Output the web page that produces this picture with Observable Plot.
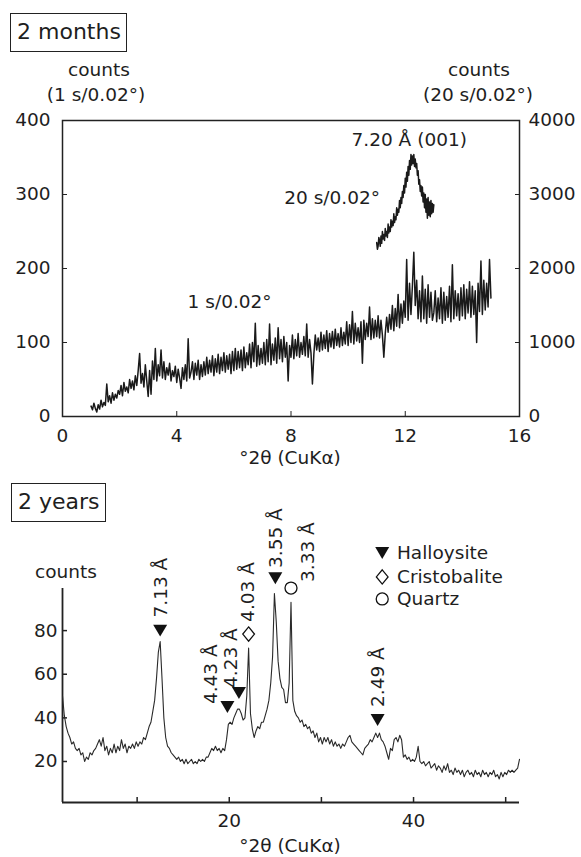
<!DOCTYPE html>
<html><head><meta charset="utf-8">
<script src="https://cdn.jsdelivr.net/npm/d3@7"></script>
<script src="https://cdn.jsdelivr.net/npm/@observablehq/plot@0.6"></script>
<style>
body{margin:0;background:#fff;}
#wrap{position:relative;width:581px;height:857px;font-family:"DejaVu Sans",sans-serif;color:#1e1e1e;overflow:hidden;background:#fff}
.t{position:absolute;white-space:nowrap;font-size:18.5px;line-height:1;transform:translate(-50%,-50%)}
.box{position:absolute;border:1.5px solid #222;font-size:22px;line-height:36px;padding:0 6px;box-sizing:border-box;white-space:nowrap}
#top,#bot{position:absolute;left:0}
</style></head><body>
<div id="wrap">
  <div id="top" style="top:0"></div>
  <div id="bot" style="top:470px"></div>
</div>
<script>
// ---------- 2 months panel ----------
const fastStart = 1.0, fastStep = 0.05; // 1 s/0.02°, counts (left axis)
const fastCounts = [
  14,9,18,11,6,16,10,22,13,19,15,44,20,28,18,32,22,30,25,35,
  30,42,28,46,34,40,32,50,38,48,36,55,42,62,85,45,58,40,70,48,
  27,62,30,75,50,92,48,70,55,90,52,74,50,66,56,72,48,62,54,68,
  46,64,52,38,66,50,70,48,105,52,60,74,50,72,56,76,50,70,54,74,
  56,80,58,76,60,82,55,78,60,84,58,80,62,86,60,82,64,84,58,88,
  62,92,64,88,66,90,62,94,66,86,70,98,66,100,74,126,68,96,70,92,
  72,100,70,104,74,125,70,98,76,106,72,120,78,104,74,108,80,100,48,96,
  80,110,78,104,82,112,80,100,84,108,82,125,80,104,86,44,84,110,90,106,
  88,114,90,110,92,116,88,112,94,115,92,118,96,112,94,120,96,114,98,128,
  96,124,100,142,98,126,102,120,100,128,72,130,104,126,108,148,104,132,106,130,
  108,136,106,130,110,80,112,134,114,138,118,150,116,146,122,165,120,152,126,156,
  134,212,130,180,138,176,222,150,184,132,170,128,190,132,172,126,178,134,168,130,
  140,170,128,160,132,174,126,168,130,162,134,176,128,205,132,170,136,166,130,174,
  136,178,132,172,140,182,134,176,138,170,100,180,142,210,138,184,144,180,148,212,
  160
];
const slowStart = 11.0, slowStep = 0.025; // 20 s/0.02°, counts (right axis)
const slowCounts = [
  2350,2260,2300,2420,2380,2300,2440,2340,
  2500,2400,2460,2380,2540,2440,2500,2420,
  2600,2480,2560,2500,2660,2560,2640,2580,
  2740,2620,2700,2660,2820,2720,2800,2760,
  2920,2820,2960,2880,3040,2960,3120,3020,
  3220,3100,3300,3180,3380,3260,3460,3340,
  3540,3400,3520,3420,3540,3380,3480,3360,
  3420,3260,3320,3140,3200,3040,3120,2980,
  3100,2900,3020,2820,3000,2760,2940,2680,
  2960,2720,2900,2700,2920,2740,2880,2760,
  2860
];
const topXTicks = [0,4,8,12,16];
const topYTicks = [0,100,200,300,400];
const rightFactor = 10;

// ---------- 2 years panel ----------
const botStart = 1.9, botStep = 0.2;
const botCounts = [
  50,41,36,33,31,28,29,26,25,26,
  23,24,20,22,21,24,23,25,26,28,
  30,27,31,25,27,23,26,24,28,24,
  27,25,30,26,28,24,27,26,28,26,
  29,27,29,28,31,30,33,36,38,43,
  48,58,70,75,58,40,31,27,26,24,
  23,22,21,22,20,21,19,21,19,20,
  21,19,20,19,21,20,21,20,22,22,
  24,26,25,27,25,26,24,26,25,30,
  37,38,37,40,42,44,44,42,39,40,
  50,72,42,35,31,34,36,35,38,38,
  41,44,48,56,68,97,84,66,58,54,
  53,47,47,56,93,48,43,41,40,38,
  39,36,37,35,36,33,34,31,33,29,
  31,28,31,29,31,28,30,27,29,27,
  28,26,28,27,29,31,32,29,28,27,
  26,25,24,23,26,27,28,30,29,31,
  33,31,33,30,29,27,24,21,26,25,
  30,31,29,32,30,22,23,21,22,20,
  21,20,22,27,20,19,20,18,19,20,
  17,18,19,16,18,17,15,18,16,19,
  15,16,14,17,15,16,14,16,13,15,
  16,14,15,13,16,14,15,13,16,14,
  15,13,15,14,16,13,14,12,15,13,
  15,14,16,15,16,15,16,17,21
];
const botXDomain = [1.9, 51.5];
const botYDomain = [1.2, 99.3];
const botXTicks = [10,20,30,40,50];
const botXTickLabels = ["","20","","40",""];
const botYTicks = [20,40,60,80];

const peakLabels = ["7.13 Å","4.43 Å","4.23 Å","4.03 Å","3.55 Å","3.33 Å","2.49 Å"];
const peakPhase  = ["H","H","H","C","H","Q","H"];
const markTheta  = [12.5, 19.8, 21.05, 22.1, 25.0, 26.7, 36.1];
const markCount  = [80, 45, 51.4, 78.4, 104, 99.5, 39];
const labTheta   = [12.55, 18.0, 20.2, 22.0, 25.1, 28.55, 36.2];
const labCount   = [86, 46.3, 53.7, 84, 108.7, 102.3, 45];

const legendNames = ["Halloysite","Cristobalite","Quartz"];
const legendPhase = ["H","C","Q"];
const legendCount = [115.6, 104.6, 94.5];
const legendSymTheta = 36.6, legendTextTheta = 38.2;

// ---------- build tables ----------
const fast = fastCounts.map((c,i)=>({t: +(fastStart + i*fastStep).toFixed(3), c}));
const slow = slowCounts.map((c,i)=>({t: +(slowStart + i*slowStep).toFixed(3), c}));
const bot = botCounts.map((c,i)=>({t: +(botStart + i*botStep).toFixed(3), c}));
const peaks = peakLabels.map((label,i)=>({label, phase: peakPhase[i], mt: markTheta[i], mc: markCount[i], lt: labTheta[i], lc: labCount[i]}));
const legend = legendNames.map((name,i)=>({name, phase: legendPhase[i], c: legendCount[i]}));

const triDown = {draw(ctx, size){const r=Math.sqrt(size/Math.PI); ctx.moveTo(-r,-0.85*r); ctx.lineTo(r,-0.85*r); ctx.lineTo(0,0.85*r); ctx.closePath();}};
const diamond = {draw(ctx, size){const r=Math.sqrt(size/Math.PI); ctx.moveTo(0,-1.1*r); ctx.lineTo(0.9*r,0); ctx.lineTo(0,1.1*r); ctx.lineTo(-0.9*r,0); ctx.closePath();}};

const font = {fontFamily:"DejaVu Sans, sans-serif", fontSize:"18.5px", color:"#1e1e1e", background:"transparent", overflow:"visible"};

const topPlot = Plot.plot({
  width:581, height:470, marginLeft:62, marginRight:62, marginTop:120, marginBottom:54,
  style: font,
  x:{domain:[0,16], label:null},
  y:{domain:[0,400], label:null},
  marks:[
    Plot.frame({stroke:"#222", strokeWidth:1.5}),
    Plot.axisX({ticks: topXTicks, tickSize:-5, tickPadding:17.6, label:null, tickFormat:d=>String(d), stroke:"#222"}),
    Plot.axisY({ticks: topYTicks, tickSize:-5, tickPadding:17, label:null, tickFormat:d=>String(d), stroke:"#222"}),
    Plot.axisY({anchor:"right", ticks: topYTicks, tickSize:-5, tickPadding:14, label:null, tickFormat:d=>String(d*rightFactor), stroke:"#222"}),
    Plot.line(fast, {x:"t", y:"c", stroke:"#1a1a1a", strokeWidth:1.5}),
    Plot.line(slow, {x:"t", y:d=>d.c/rightFactor, stroke:"#1a1a1a", strokeWidth:1.5}),
    Plot.text(["7.20 Å (001)"], {x:10.12, y:373, text:d=>d, textAnchor:"start", fill:"#1e1e1e"}),
    Plot.text(["20 s/0.02°"], {x:9.44, y:294.6, text:d=>d, fill:"#1e1e1e"}),
    Plot.text(["1 s/0.02°"], {x:5.85, y:154, text:d=>d, fill:"#1e1e1e"})
  ]
});
document.getElementById("top").appendChild(topPlot);

const botPlot = Plot.plot({
  width:581, height:387, marginLeft:62, marginRight:62, marginTop:118, marginBottom:55,
  style: font,
  x:{domain: botXDomain, label:null},
  y:{domain: botYDomain, label:null},
  marks:[
    Plot.ruleY([botYDomain[0]], {stroke:"#222", strokeWidth:1.8}),
    Plot.ruleX([botXDomain[0]], {stroke:"#222", strokeWidth:1.8}),
    Plot.axisX({ticks: botXTicks, tickSize:-5, tickPadding:16.6, label:null, tickFormat:d=>botXTickLabels[botXTicks.indexOf(d)], stroke:"#222", strokeWidth:1.5}),
    Plot.axisY({ticks: botYTicks, tickSize:-5, tickPadding:10, label:null, tickFormat:d=>String(d), stroke:"#222", strokeWidth:1.5}),
    Plot.line(bot, {x:"t", y:"c", stroke:"#2a2a2a", strokeWidth:1.1}),
    Plot.dot(peaks.filter(d=>d.phase==="H"), {x:"mt", y:"mc", symbol: triDown, r:7, fill:"#111", stroke:"none"}),
    Plot.dot(peaks.filter(d=>d.phase==="C"), {x:"mt", y:"mc", symbol: diamond, r:6.5, fill:"white", stroke:"#111", strokeWidth:1.3}),
    Plot.dot(peaks.filter(d=>d.phase==="Q"), {x:"mt", y:"mc", symbol: "circle", r:6, fill:"white", stroke:"#111", strokeWidth:1.3}),
    Plot.text(peaks, {x:"lt", y:"lc", text:"label", rotate:-90, textAnchor:"start", fill:"#1e1e1e"}),
    Plot.dot(legend.filter(d=>d.phase==="H"), {x:()=>legendSymTheta, y:"c", symbol: triDown, r:7, fill:"#111", stroke:"none"}),
    Plot.dot(legend.filter(d=>d.phase==="C"), {x:()=>legendSymTheta, y:"c", symbol: diamond, r:6.5, fill:"white", stroke:"#111", strokeWidth:1.3}),
    Plot.dot(legend.filter(d=>d.phase==="Q"), {x:()=>legendSymTheta, y:"c", symbol: "circle", r:6, fill:"white", stroke:"#111", strokeWidth:1.3}),
    Plot.text(legend, {x:()=>legendTextTheta, y:"c", text:"name", textAnchor:"start", fill:"#1e1e1e"})
  ]
});
document.getElementById("bot").appendChild(botPlot);

// ---------- HTML titles ----------
const wrap = document.getElementById("wrap");
function addText(txt, x, y){const d=document.createElement("div"); d.className="t"; d.style.left=x+"px"; d.style.top=y+"px"; d.textContent=txt; wrap.appendChild(d);}
function addBox(txt, x, y, w, h){const d=document.createElement("div"); d.className="box"; d.style.left=x+"px"; d.style.top=y+"px"; d.style.width=w+"px"; d.style.height=h+"px"; d.style.lineHeight=(h-3)+"px"; d.textContent=txt; wrap.appendChild(d);}
addBox("2 months", 10, 13, 117, 39);
addBox("2 years", 11, 483, 95, 39);
addText("counts", 99, 70);
addText("(1 s/0.02°)", 96, 95);
addText("counts", 479, 70);
addText("(20 s/0.02°)", 478, 95);
addText("°2θ (CuKα)", 290, 458);
addText("counts", 66, 572);
addText("°2θ (CuKα)", 290, 846);
</script>
</body></html>
